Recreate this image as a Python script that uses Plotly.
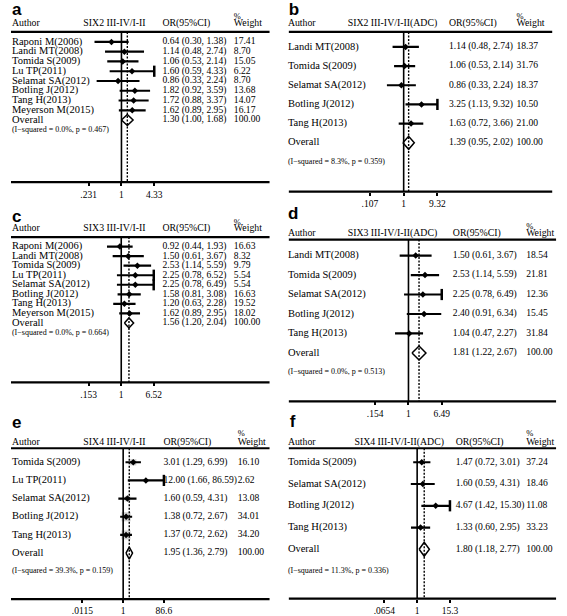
import math
import plotly.graph_objects as go

# ---------------- data ----------------
a_title = "SIX2 III-IV/I-II"
a_authors = ["Raponi M(2006)", "Landi MT(2008)", "Tomida S(2009)", "Lu TP(2011)",
             "Selamat SA(2012)", "Botling J(2012)", "Tang H(2013)", "Meyerson M(2015)"]
a_or = [0.64, 1.14, 1.06, 1.60, 0.86, 1.82, 1.72, 1.62]
a_lo = [0.30, 0.48, 0.53, 0.59, 0.33, 0.92, 0.88, 0.89]
a_hi = [1.38, 2.74, 2.14, 4.33, 2.24, 3.59, 3.37, 2.95]
a_wt = [17.41, 8.70, 15.05, 6.22, 8.70, 13.68, 14.07, 16.17]
a_overall = [1.30, 1.00, 1.68]
a_het = "(I\u2212squared = 0.0%, p = 0.467)"
a_ticks = [".231", "1", "4.33"]

b_title = "SIX2 III-IV/I-II(ADC)"
b_authors = ["Landi MT(2008)", "Tomida S(2009)", "Selamat SA(2012)", "Botling J(2012)", "Tang H(2013)"]
b_or = [1.14, 1.06, 0.86, 3.25, 1.63]
b_lo = [0.48, 0.53, 0.33, 1.13, 0.72]
b_hi = [2.74, 2.14, 2.24, 9.32, 3.66]
b_wt = [18.37, 31.76, 18.37, 10.50, 21.00]
b_overall = [1.39, 0.95, 2.02]
b_het = "(I\u2212squared = 8.3%, p = 0.359)"
b_ticks = [".107", "1", "9.32"]

c_title = "SIX3 III-IV/I-II"
c_authors = ["Raponi M(2006)", "Landi MT(2008)", "Tomida S(2009)", "Lu TP(2011)",
             "Selamat SA(2012)", "Botling J(2012)", "Tang H(2013)", "Meyerson M(2015)"]
c_or = [0.92, 1.50, 2.53, 2.25, 2.25, 1.58, 1.20, 1.62]
c_lo = [0.44, 0.61, 1.14, 0.78, 0.78, 0.81, 0.63, 0.89]
c_hi = [1.93, 3.67, 5.59, 6.52, 6.49, 3.08, 2.28, 2.95]
c_wt = [16.63, 8.32, 9.79, 5.54, 5.54, 16.63, 19.52, 18.02]
c_overall = [1.56, 1.20, 2.04]
c_het = "(I\u2212squared = 0.0%, p = 0.664)"
c_ticks = [".153", "1", "6.52"]

d_title = "SIX3 III-IV/I-II(ADC)"
d_authors = ["Landi MT(2008)", "Tomida S(2009)", "Selamat SA(2012)", "Botling J(2012)", "Tang H(2013)"]
d_or = [1.50, 2.53, 2.25, 2.40, 1.04]
d_lo = [0.61, 1.14, 0.78, 0.91, 0.47]
d_hi = [3.67, 5.59, 6.49, 6.34, 2.27]
d_wt = [18.54, 21.81, 12.36, 15.45, 31.84]
d_overall = [1.81, 1.22, 2.67]
d_het = "(I\u2212squared = 0.0%, p = 0.513)"
d_ticks = [".154", "1", "6.49"]

e_title = "SIX4 III-IV/I-II"
e_authors = ["Tomida S(2009)", "Lu TP(2011)", "Selamat SA(2012)", "Botling J(2012)", "Tang H(2013)"]
e_or = [3.01, 12.00, 1.60, 1.38, 1.37]
e_lo = [1.29, 1.66, 0.59, 0.72, 0.72]
e_hi = [6.99, 86.59, 4.31, 2.67, 2.62]
e_wt = [16.10, 2.62, 13.08, 34.01, 34.20]
e_overall = [1.95, 1.36, 2.79]
e_het = "(I\u2212squared = 39.3%, p = 0.159)"
e_ticks = [".0115", "1", "86.6"]

f_title = "SIX4 III-IV/I-II(ADC)"
f_authors = ["Tomida S(2009)", "Selamat SA(2012)", "Botling J(2012)", "Tang H(2013)"]
f_or = [1.47, 1.60, 4.67, 1.33]
f_lo = [0.72, 0.59, 1.42, 0.60]
f_hi = [3.01, 4.31, 15.30, 2.95]
f_wt = [37.24, 18.46, 11.08, 33.23]
f_overall = [1.80, 1.18, 2.77]
f_het = "(I\u2212squared = 11.3%, p = 0.336)"
f_ticks = [".0654", "1", "15.3"]

# ---------------- layout geometry (pixels) ----------------
W, H = 567, 616
SERIF = "Liberation Serif"

panels = [
    dict(label="a", title=a_title, authors=a_authors, or_=a_or, lo=a_lo, hi=a_hi, wt=a_wt,
         overall=a_overall, het=a_het, ticks=a_ticks, boxes=False,
         lx=1, ly=11, hy=24, pcty=17, hline=32, y0=42, dy=9.78, bline=182.5,
         dom=(80.5, 148.5), ax=1, ox=157, wx=231, tx=75, span=(0, 268), dh=5.5),
    dict(label="b", title=b_title, authors=b_authors, or_=b_or, lo=b_lo, hi=b_hi, wt=b_wt,
         overall=b_overall, het=b_het, ticks=b_ticks, boxes=False,
         lx=288, ly=11, hy=24, pcty=17, hline=32, y0=47, dy=19.2, bline=192,
         dom=(372, 442), ax=287, ox=454, wx=524, tx=349, span=(288, 561), dh=6.5),
    dict(label="c", title=c_title, authors=c_authors, or_=c_or, lo=c_lo, hi=c_hi, wt=c_wt,
         overall=c_overall, het=c_het, ticks=c_ticks, boxes=False,
         lx=1, ly=218, hy=229, pcty=223, hline=237.5, y0=247, dy=9.56, bline=383,
         dom=(80.5, 148), ax=1, ox=157, wx=231, tx=75, span=(0, 268), dh=5),
    dict(label="d", title=d_title, authors=d_authors, or_=d_or, lo=d_lo, hi=d_hi, wt=d_wt,
         overall=d_overall, het=d_het, ticks=d_ticks, boxes=False,
         lx=287, ly=215, hy=234, pcty=227, hline=240, y0=256, dy=19.5, bline=402,
         dom=(377.5, 446.5), ax=287, ox=458, wx=534, tx=349, span=(288, 565), dh=7),
    dict(label="e", title=e_title, authors=e_authors, or_=e_or, lo=e_lo, hi=e_hi, wt=e_wt,
         overall=e_overall, het=e_het, ticks=e_ticks, boxes=True,
         lx=1, ly=424, hy=443, pcty=435, hline=449, y0=463, dy=18.2, bline=600,
         dom=(74, 158.5), ax=1, ox=158, wx=235, tx=75, span=(0, 268), dh=6),
    dict(label="f", title=f_title, authors=f_authors, or_=f_or, lo=f_lo, hi=f_hi, wt=f_wt,
         overall=f_overall, het=f_het, ticks=f_ticks, boxes=False,
         lx=289, ly=423, hy=443, pcty=435, hline=449, y0=463, dy=21.8, bline=599.5,
         dom=(387, 455), ax=287, ox=461, wx=534, tx=356, span=(288, 565), dh=7),
]


def px(x):
    return x / W


def py(y):
    return 1 - y / H


fig = go.Figure()
layout_axes = {}

# overlay axis covering the whole page, in pixel units, for rules and text columns
NP = len(panels) + 1
OX, OY = f"x{NP}", f"y{NP}"
layout_axes[f"xaxis{NP}"] = dict(domain=[0, 1], range=[0, W], visible=False,
                                 anchor=OY, fixedrange=True)
layout_axes[f"yaxis{NP}"] = dict(domain=[0, 1], range=[H, 0], visible=False,
                                 anchor=OX, fixedrange=True)


def add_text(xs, ys, texts, size, family=SERIF):
    fig.add_trace(go.Scatter(x=xs, y=ys, text=texts, mode="text",
                             textposition="middle right", xaxis=OX, yaxis=OY,
                             textfont=dict(family=family, size=size, color="black"),
                             showlegend=False, hoverinfo="skip", cliponaxis=False))


for i, p in enumerate(panels, start=1):
    xname = "x" if i == 1 else f"x{i}"
    yname = "y" if i == 1 else f"y{i}"
    xkey = "xaxis" if i == 1 else f"xaxis{i}"
    ykey = "yaxis" if i == 1 else f"yaxis{i}"

    n = len(p["authors"])
    tickvals = [float(t) for t in p["ticks"]]
    lo_t, hi_t = tickvals[0], tickvals[-1]

    ytop = (p["y0"] - p["hline"]) / p["dy"]
    ybot = -(p["bline"] - p["y0"]) / p["dy"]

    layout_axes[xkey] = dict(
        type="log", domain=[px(p["dom"][0]), px(p["dom"][1])],
        range=[math.log10(lo_t), math.log10(hi_t)],
        tickvals=tickvals, ticktext=p["ticks"], ticks="outside", ticklen=3,
        tickwidth=1.5, tickcolor="black", showgrid=False, zeroline=False,
        showline=False, anchor=yname,
        tickfont=dict(family=SERIF, size=9.5, color="black"),
    )
    layout_axes[ykey] = dict(
        domain=[py(p["bline"]), py(p["hline"])], range=[ybot, ytop],
        visible=False, showline=False, showgrid=False, zeroline=False, anchor=xname,
    )

    ys = [-k for k in range(n)]

    if p["boxes"]:
        fig.add_trace(go.Scatter(
            x=p["or_"], y=ys, mode="markers", xaxis=xname, yaxis=yname,
            marker=dict(symbol="square", size=[1.55 * math.sqrt(w) for w in p["wt"]],
                        color="#bdbdbd", line=dict(width=0)),
            showlegend=False, hoverinfo="skip", cliponaxis=False))

    o, olo, ohi = p["overall"]
    fig.add_trace(go.Scatter(x=[1, 1], y=[ytop, ybot], mode="lines", xaxis=xname,
                             yaxis=yname, line=dict(color="black", width=1.6),
                             showlegend=False, hoverinfo="skip", cliponaxis=False))
    fig.add_trace(go.Scatter(x=[o, o], y=[ytop, ybot], mode="lines", xaxis=xname,
                             yaxis=yname,
                             line=dict(color="black", width=1.4, dash="2px,1.5px"),
                             showlegend=False, hoverinfo="skip", cliponaxis=False))

    cx, cy = [], []
    for k in range(n):
        cx += [p["lo"][k], p["hi"][k], None]
        cy += [-k, -k, None]
    fig.add_trace(go.Scatter(x=cx, y=cy, mode="lines", xaxis=xname, yaxis=yname,
                             line=dict(color="black", width=2.2),
                             showlegend=False, hoverinfo="skip", cliponaxis=False))

    capx = [h for h in p["hi"] if h >= 0.99 * hi_t]
    capy = [-k for k, h in enumerate(p["hi"]) if h >= 0.99 * hi_t]
    if capx:
        fig.add_trace(go.Scatter(x=capx, y=capy, mode="markers", xaxis=xname, yaxis=yname,
                                 marker=dict(symbol="line-ns", size=8,
                                             line=dict(color="black", width=2.5)),
                                 showlegend=False, hoverinfo="skip", cliponaxis=False))

    fig.add_trace(go.Scatter(x=p["or_"], y=ys, mode="markers", xaxis=xname, yaxis=yname,
                             marker=dict(symbol="diamond", size=5, color="black"),
                             showlegend=False, hoverinfo="skip", cliponaxis=False))

    h = p["dh"] / p["dy"]
    fig.add_trace(go.Scatter(
        x=[olo, o, ohi, o, olo], y=[-n, -n + h, -n, -n - h, -n], mode="lines",
        xaxis=xname, yaxis=yname, line=dict(color="black", width=1.5),
        showlegend=False, hoverinfo="skip", cliponaxis=False))

    for yy in (p["hline"], p["bline"]):
        fig.add_trace(go.Scatter(x=[p["span"][0], p["span"][1]], y=[yy, yy], mode="lines",
                                 xaxis=OX, yaxis=OY, line=dict(color="black", width=2.2),
                                 showlegend=False, hoverinfo="skip", cliponaxis=False))

    add_text([p["lx"]], [p["ly"]], [f"<b>{p['label']}</b>"], 17, "Liberation Sans")
    add_text([p["ax"], p["tx"], p["ox"], p["wx"]], [p["hy"]] * 4,
             ["Author", p["title"], "OR(95%CI)", "Weight"], 9.8)
    add_text([p["wx"]], [p["pcty"]], ["%"], 8.5)

    labels = p["authors"] + ["Overall"]
    ors = p["or_"] + [o]
    los = p["lo"] + [olo]
    his = p["hi"] + [ohi]
    wts = p["wt"] + [100.0]
    row_y = [p["y0"] + k * p["dy"] for k in range(n + 1)]
    add_text([p["ax"]] * (n + 1), row_y, labels, 10.5)
    add_text([p["ox"]] * (n + 1), row_y,
             [f"{ors[k]:.2f} ({los[k]:.2f}, {his[k]:.2f})" for k in range(n + 1)], 9.6)
    add_text([p["wx"]] * (n + 1), row_y, [f"{w:.2f}" for w in wts], 9.6)
    add_text([p["ax"]], [p["y0"] + (n + 1) * p["dy"]], [p["het"]], 8)

fig.update_layout(
    width=W, height=H, margin=dict(l=0, r=0, t=0, b=0),
    paper_bgcolor="white", plot_bgcolor="rgba(0,0,0,0)",
    showlegend=False,
    **layout_axes,
)

fig.write_html(
    "out.html",
    config={"displayModeBar": False},
    post_script="document.body.style.margin='0';document.body.style.overflow='hidden';",
)
